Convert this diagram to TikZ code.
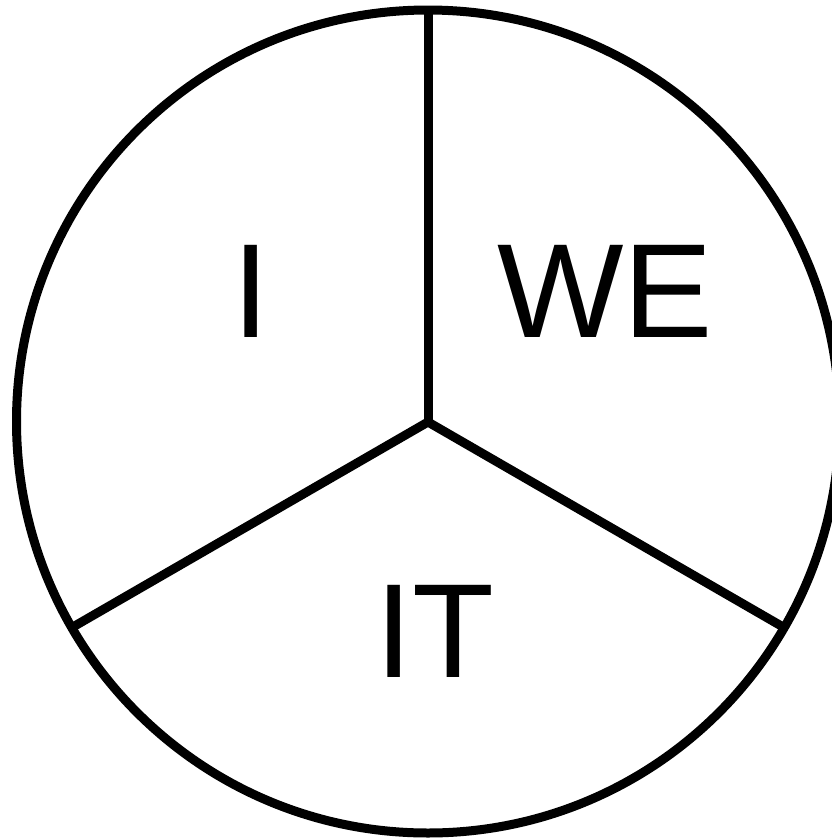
\documentclass[tikz,border=0pt]{standalone}
\usepackage{fontspec}
\setmainfont{Liberation Sans}
\usetikzlibrary{calc}
\begin{document}
\begin{tikzpicture}[x=1pt,y=-1pt,
  rim/.style={line width=9pt},
  spoke/.style={line width=9pt, line cap=butt},
  label/.style={inner sep=0pt, anchor=base, font=\fontsize{134}{134}\selectfont}]
\useasboundingbox (0,0) rectangle (832,839);
\clip (0,0) rectangle (832,839);
\coordinate (c) at (428,422);
\coordinate (top) at (428,12);
\coordinate (left) at ($(c)+(-356.4,205.75)$);
\coordinate (right) at ($(c)+(356.4,205.75)$);
\draw[rim] (428,421.5) circle[radius=411.5];
\draw[spoke] (top) -- (c);
\draw[spoke] (left) -- (c) -- (right);
\node[label] (i) at (251.5,337) {I};
\node[label] (we) at (605,337) {WE};
\node[label] (it) at (435,677) {IT};
\end{tikzpicture}
\end{document}
